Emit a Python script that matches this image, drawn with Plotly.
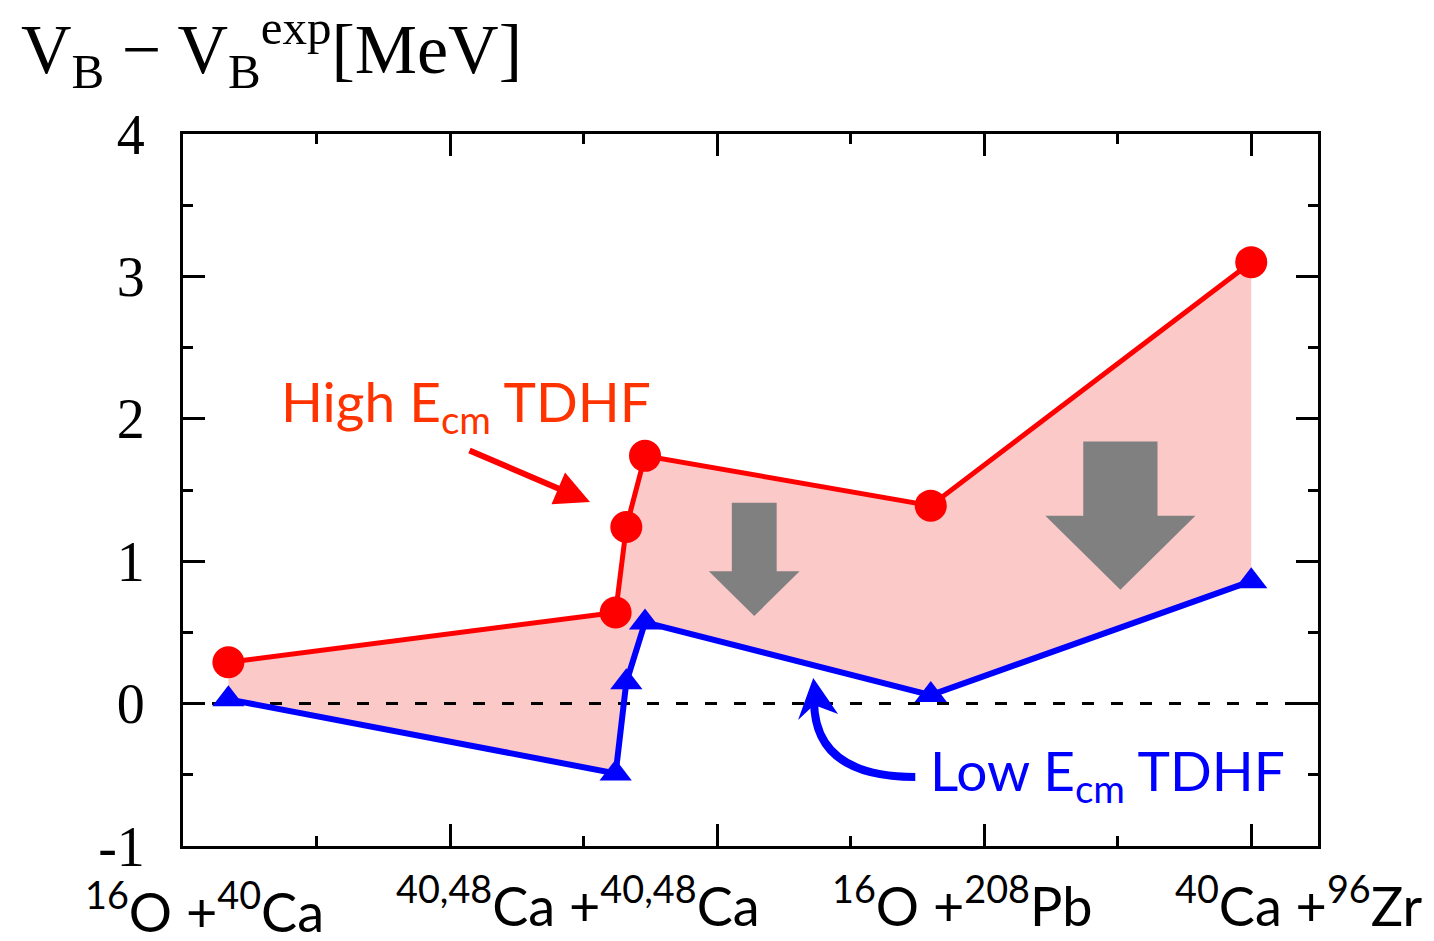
import plotly.graph_objects as go

# Reaction systems along the x axis and barrier-height differences (MeV)
x_pos = [0.17, 1.62, 1.66, 1.73, 2.80, 4.00]
high_ecm = [0.29, 0.64, 1.24, 1.74, 1.39, 3.10]
low_ecm = [0.03, -0.49, 0.15, 0.57, 0.06, 0.86]

system_labels = [
    "<sup>16</sup>O +<sup>40</sup>Ca",
    "<sup>40,48</sup>Ca +<sup>40,48</sup>Ca",
    "<sup>16</sup>O +<sup>208</sup>Pb",
    "<sup>40</sup>Ca +<sup>96</sup>Zr",
]
system_label_x = [0.08, 1.48, 2.92, 4.18]
system_label_y = [-0.034, -0.025, -0.025, -0.025]

y_tick_vals = [-1, 0, 1, 2, 3, 4]
y_tick_text = ["-1", "0", "1", "2", "3", "4"]
x_major = [1, 2, 3, 4]
x_minor = [0.5, 1.5, 2.5, 3.5]
y_minor = [-0.5, 0.5, 1.5, 2.5, 3.5]

RED = "#ff0000"
BLUE = "#0000ff"
FILL = "#fcc9c9"
GREY = "#808080"
SANS = "Lato, 'Open Sans', sans-serif"
SERIF = "'Liberation Serif', 'Times New Roman', serif"

fig = go.Figure()

# shaded band between the two TDHF curves
fig.add_trace(go.Scatter(
    x=x_pos + x_pos[::-1],
    y=high_ecm + low_ecm[::-1],
    fill="toself", fillcolor=FILL, line=dict(width=0),
    mode="lines", hoverinfo="skip", showlegend=False,
))

# zero reference line
fig.add_trace(go.Scatter(
    x=[0, 4.25], y=[0, 0], mode="lines",
    line=dict(color="black", width=3, dash="12px,17px"),
    hoverinfo="skip", showlegend=False,
))

fig.add_trace(go.Scatter(
    x=x_pos, y=low_ecm, mode="lines+markers",
    line=dict(color=BLUE, width=6),
    marker=dict(symbol="triangle-up", size=28, color=BLUE),
    showlegend=False,
))
fig.add_trace(go.Scatter(
    x=x_pos, y=high_ecm, mode="lines+markers",
    line=dict(color=RED, width=5),
    marker=dict(symbol="circle", size=32, color=RED),
    showlegend=False,
))

# invisible trace that carries the mirrored top/right axes
fig.add_trace(go.Scatter(
    x=[0], y=[0], xaxis="x2", yaxis="y2", mode="markers",
    marker=dict(opacity=0), hoverinfo="skip", showlegend=False,
))


def block_arrow(xc, top, neck, tip, shaft_hw, head_hw):
    return (f"M {xc - shaft_hw},{top} L {xc + shaft_hw},{top} "
            f"L {xc + shaft_hw},{neck} L {xc + head_hw},{neck} "
            f"L {xc},{tip} L {xc - head_hw},{neck} "
            f"L {xc - shaft_hw},{neck} Z")


shapes = [
    # downward shift arrows
    dict(type="path", xref="x", yref="y",
         path=block_arrow(2.139, 1.41, 0.93, 0.615, 0.084, 0.170),
         fillcolor=GREY, line=dict(width=0)),
    dict(type="path", xref="x", yref="y",
         path=block_arrow(3.51, 1.84, 1.32, 0.80, 0.139, 0.281),
         fillcolor=GREY, line=dict(width=0)),
    # curved pointer to the low-energy curve
    dict(type="path", xref="x", yref="y",
         path="M 2.742,-0.515 Q 2.363,-0.515 2.363,0.02",
         line=dict(color=BLUE, width=8)),
    dict(type="path", xref="x", yref="y",
         path="M 2.360,0.18 L 2.303,-0.115 L 2.363,-0.01 L 2.453,-0.073 Z",
         fillcolor=BLUE, line=dict(width=0)),
]

annotations = [
    dict(x=1.524, y=1.416, xref="x", yref="y", ax=-122, ay=-52,
         text="", showarrow=True, arrowcolor=RED, arrowwidth=6,
         arrowhead=2, arrowsize=1.15, standoff=0),
    dict(x=0.36, y=2.1, xref="x", yref="y", xanchor="left", yanchor="middle",
         text="High E<sub>cm</sub> TDHF", showarrow=False,
         font=dict(family=SANS, size=55, color="#ff3300")),
    dict(x=2.79, y=-0.495, xref="x", yref="y", xanchor="left", yanchor="middle",
         text="Low E<sub>cm</sub> TDHF", showarrow=False,
         font=dict(family=SANS, size=55, color=BLUE)),
    dict(x=-0.1445, y=1.118, xref="paper", yref="paper", xanchor="left",
         yanchor="middle",
         text="V<sub>B</sub> − V<sub>B</sub><sup>exp</sup>[MeV]",
         showarrow=False, font=dict(family=SERIF, size=70, color="black")),
]
for lab, lx, ly in zip(system_labels, system_label_x, system_label_y):
    annotations.append(dict(
        x=lx, y=ly, xref="x", yref="paper", xanchor="center", yanchor="top",
        text=lab, showarrow=False,
        font=dict(family=SANS, size=54, color="black"),
    ))

axis_common = dict(
    showline=True, linewidth=3, linecolor="black",
    ticks="inside", ticklen=22, tickwidth=3, tickcolor="black",
    showgrid=False, zeroline=False,
)
minor_common = dict(ticks="inside", ticklen=10, tickwidth=3,
                    tickcolor="black")

fig.update_layout(
    width=1434, height=941,
    margin=dict(l=183, r=116, t=134, b=95),
    paper_bgcolor="white", plot_bgcolor="white",
    xaxis=dict(range=[0, 4.25], tickvals=x_major, showticklabels=False,
               minor=dict(tickvals=x_minor, **minor_common), **axis_common),
    yaxis=dict(range=[-1, 4], tickvals=y_tick_vals, ticktext=y_tick_text,
               tickfont=dict(family=SERIF, size=56, color="black"),
               ticklabelstandoff=24,
               minor=dict(tickvals=y_minor, **minor_common), **axis_common),
    xaxis2=dict(range=[0, 4.25], overlaying="x", side="top",
                tickvals=x_major, showticklabels=False,
                minor=dict(tickvals=x_minor, **minor_common), **axis_common),
    yaxis2=dict(range=[-1, 4], overlaying="y", side="right",
                tickvals=y_tick_vals, showticklabels=False,
                minor=dict(tickvals=y_minor, **minor_common), **axis_common),
    shapes=shapes,
    annotations=annotations,
)

fig.write_html("out.html")
